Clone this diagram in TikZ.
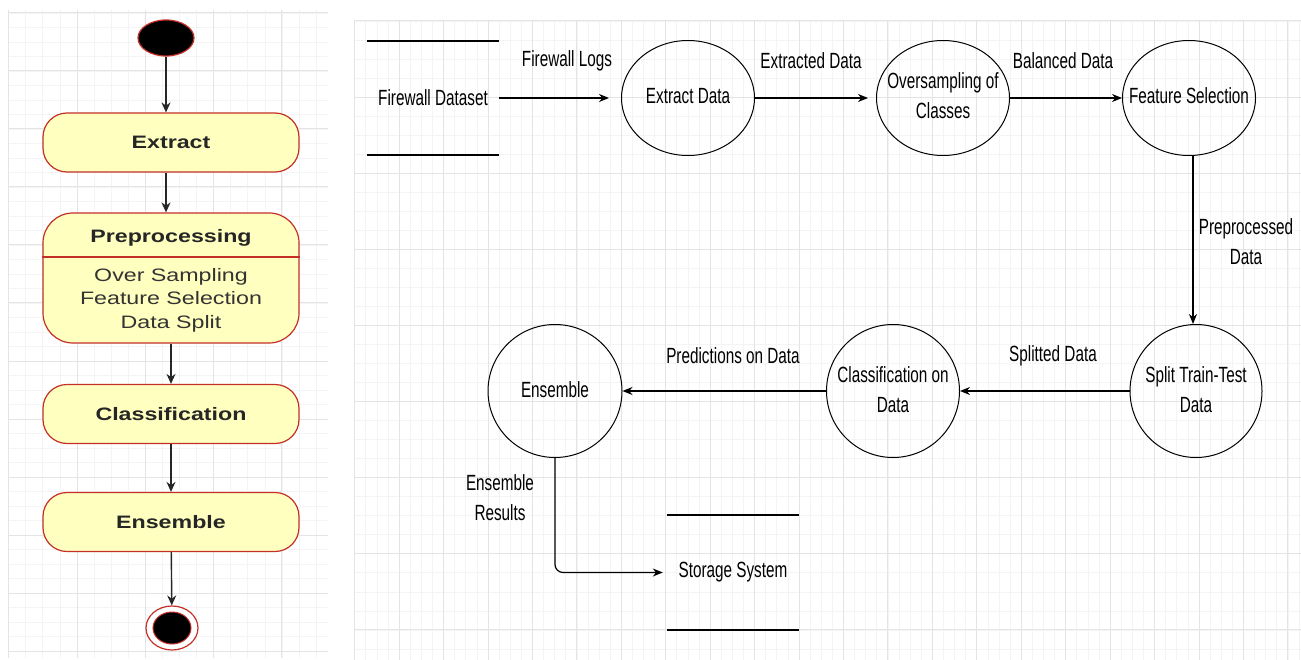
\documentclass[tikz,border=0pt]{standalone}
\usepackage{fontspec}
\setmainfont{Liberation Sans}
\newfontfamily\dfdfont[FakeStretch=0.695]{Liberation Sans}
\newfontfamily\umlfont[FakeStretch=1.29]{Liberation Sans}
\usetikzlibrary{arrows.meta,shapes.geometric}
\definecolor{umlfill}{RGB}{255,255,192}
\definecolor{umlline}{RGB}{196,48,40}
\definecolor{gridmajor}{RGB}{228,228,228}
\definecolor{gridminor}{RGB}{244,244,244}
% keep the ellipse size independent of its text
\newcommand{\proctext}[1]{\raisebox{-3pt}{\makebox[0pt][c]{\begin{tabular}{@{}c@{}}#1\end{tabular}}}}

\tikzset{
  state/.style={draw=umlline, line width=1.2pt, fill=umlfill, rounded corners=24pt,
    minimum width=256pt, minimum height=59pt, inner sep=0pt, text=black!85,
    font=\umlfont\fontsize{18}{23.5}\selectfont\bfseries},
  process/.style={ellipse, draw, line width=1pt, minimum width=133pt, minimum height=115pt,
    inner sep=0pt, font=\dfdfont\fontsize{22}{30}\selectfont},
  store/.style={minimum width=132pt, minimum height=114pt, inner sep=0pt,
    font=\dfdfont\fontsize{22}{30}\selectfont},
  lbl/.style={align=center, inner sep=0pt, font=\dfdfont\fontsize{22}{30}\selectfont},
  flow/.style={-{Stealth[length=10pt,width=8pt]}, line width=1.2pt},
  umlflow/.style={-{Stealth[length=10pt,width=9pt]}, line width=1.4pt, black!85},
}

\begin{document}
\begin{tikzpicture}[x=1pt, y=-1pt]
  %%%%% START %%%%%
  \useasboundingbox[fill=white] (0,0) rectangle (1301,660);

  % grid left
  \foreach \k in {0,...,18} \draw[gridminor, line width=0.8pt] ({8.7+\k*17.08},10) -- ({8.7+\k*17.08},658);
  \foreach \k in {0,...,44} \draw[gridminor, line width=0.8pt] (8,{13+\k*14.5}) -- (328,{13+\k*14.5});
  \foreach \k in {0,...,4} \draw[gridmajor, line width=1pt] ({8.7+\k*68.32},10) -- ({8.7+\k*68.32},658);
  \foreach \k in {0,...,11} \draw[gridmajor, line width=1pt] (8,{13+\k*58}) -- (328,{13+\k*58});

  % grid right
  \foreach \k in {0,...,85} \draw[gridminor, line width=0.8pt] ({354.7+\k*11.11},20) -- ({354.7+\k*11.11},660);
  \foreach \k in {0,...,33} \draw[gridminor, line width=0.8pt] (355,{21+\k*19.03}) -- (1301,{21+\k*19.03});
  \foreach \k in {0,...,21} \draw[gridmajor, line width=1pt] ({354.7+\k*44.44},20) -- ({354.7+\k*44.44},660);
  \foreach \k in {0,...,8} \draw[gridmajor, line width=1pt] (355,{21+\k*76.1}) -- (1301,{21+\k*76.1});

  % activity diagram
  \node[ellipse, draw=umlline, line width=1.2pt, fill=black, minimum width=56pt, minimum height=36pt] (init) at (166,38) {};
  \node[state] (extract) at (171,142.5) {Extract};
  \node[state, minimum height=130pt, rounded corners=30pt] (pre) at (171,278) {};
  \draw[umlline, line width=1.2pt] (pre.west |- 0,257) -- (pre.east |- 0,257);
  \node[font=\umlfont\fontsize{18}{23.5}\selectfont\bfseries, text=black!85] (pretitle) at (171,238) {Preprocessing};
  \node[align=center, font=\umlfont\fontsize{18}{23.5}\selectfont, text=black!80] (prebody) at (171,300)
    {Over Sampling\\Feature Selection\\Data Split};
  \node[state] (classif) at (171,414) {Classification};
  \node[state] (ensemble) at (171,522) {Ensemble};
  \node[ellipse, draw=umlline, line width=1.2pt, fill=white, minimum width=52pt, minimum height=44pt] (final) at (172,628) {};
  \node[ellipse, draw=umlline, line width=1pt, fill=black, minimum width=38pt, minimum height=32pt] (finaldot) at (172,628) {};

  \draw[umlflow] (init) -- (init |- extract.north);
  \draw[umlflow] (extract.south -| init) -- (pre.north -| init);
  \draw[umlflow] (pre) -- (classif);
  \draw[umlflow] (classif) -- (ensemble);
  \draw[umlflow] (ensemble) -- (final);

  % data flow diagram
  \node[store] (fwds) at (433,98) {\raisebox{-2pt}{Firewall Dataset}};
  \draw[line width=1.5pt] (fwds.north west) -- (fwds.north east);
  \draw[line width=1.5pt] (fwds.south west) -- (fwds.south east);

  \node[process] (extractdata) at (688,98) {\proctext{Extract Data}};
  \node[process] (oversample) at (943,98) {\proctext{Oversampling of\\Classes}};
  \node[process] (featsel) at (1189,98) {\proctext{Feature Selection}};
  \node[process, minimum height=133pt, minimum width=132pt] (split) at (1196,391) {\proctext{Split Train-Test\\Data}};
  \node[process, minimum height=133pt] (classify) at (893,391) {\proctext{Classification on\\Data}};
  \node[process, minimum height=133pt, minimum width=134pt] (ensproc) at (555,391) {\proctext{Ensemble}};

  \node[store, minimum height=115pt] (storage) at (733,572.5) {\raisebox{-2pt}{Storage System}};
  \draw[line width=1.5pt] (storage.north west) -- (storage.north east);
  \draw[line width=1.5pt] (storage.south west) -- (storage.south east);

  \draw[flow, shorten >=12pt] (fwds.east) -- (extractdata.west);
  \draw[flow, shorten >=8pt] (extractdata.east) -- (oversample.west);
  \draw[flow] (oversample.east) -- (featsel.west);
  \draw[flow] ([xshift=4pt]featsel.south) -- ([xshift=-3pt]split.north);
  \draw[flow] (split.west) -- (classify.east);
  \draw[flow] (classify.west) -- (ensproc.east);
  \draw[flow, rounded corners=8pt] (ensproc.south) |- ([xshift=-4pt]storage.west);

  \node[lbl] (lbllogs) at (567,61) {Firewall Logs};
  \node[lbl] (lblextracted) at (811,61) {Extracted Data};
  \node[lbl] (lblbalanced) at (1063,61) {Balanced Data};
  \node[lbl] (lblpreproc) at (1246,242) {Preprocessed\\Data};
  \node[lbl] (lblsplitted) at (1053,356) {Splitted Data};
  \node[lbl] (lblpredict) at (733,356) {Predictions on Data};
  \node[lbl] (lblresults) at (500,498) {Ensemble\\Results};
  %%%%% END %%%%%
\end{tikzpicture}
\end{document}
